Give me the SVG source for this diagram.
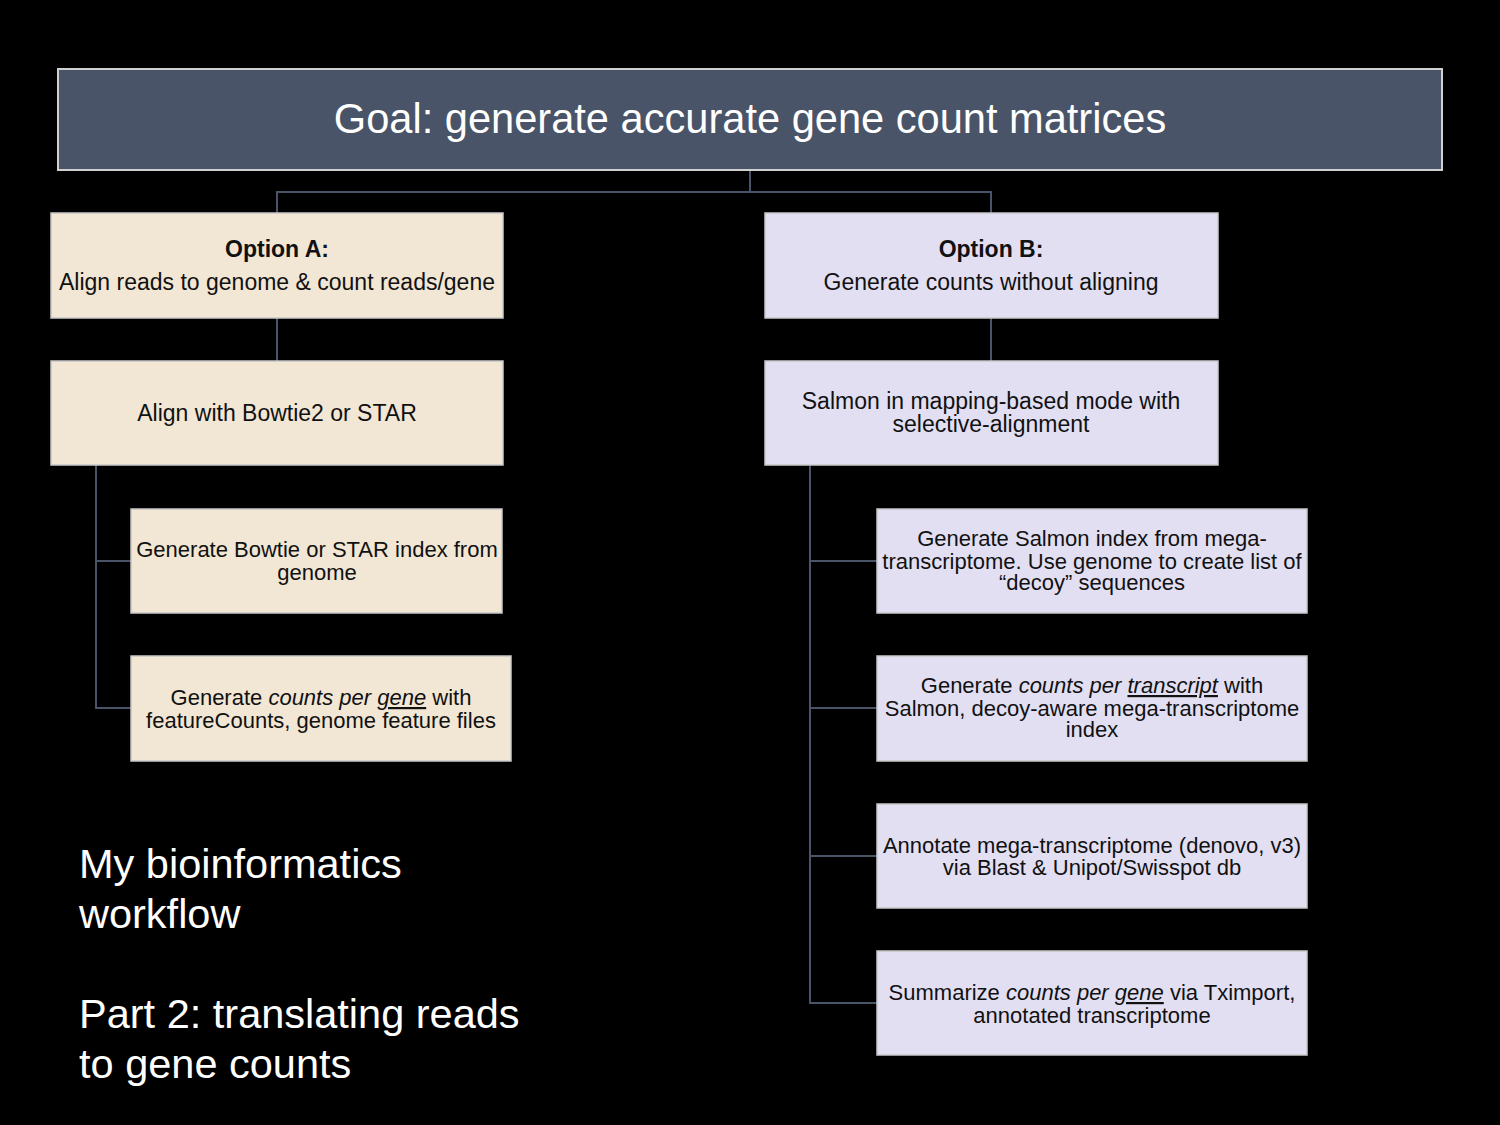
<svg xmlns="http://www.w3.org/2000/svg" width="1500" height="1125" viewBox="0 0 1500 1125">
<style>
.bg{fill:#000}
.a{fill:#f2e6d4;stroke:#c8c8c8;stroke-width:1.5}
.b{fill:#e3dff3;stroke:#c8c8c8;stroke-width:1.5}
.goal{fill:#4a5468;stroke:#d0d0d0;stroke-width:2}
.t{font-family:"Liberation Sans",Arial,sans-serif;font-size:22px;fill:#111;text-anchor:middle}
.l{font-size:23px}
.bold{font-weight:bold}
.gt{font-family:"Liberation Sans",Arial,sans-serif;font-size:41.6px;fill:#fff;text-anchor:middle}
.side{font-family:"Liberation Sans",Arial,sans-serif;font-size:41.5px;fill:#fff}
.c{fill:none;stroke:#4a5468;stroke-width:2}
.u{text-decoration:underline}
</style>
<rect class="bg" x="0" y="0" width="1500" height="1125"/>
<g id="connectors">
<polyline class="c" points="750,170 750,192 277,192 277,213"/>
<polyline class="c" points="750,192 991,192 991,213"/>
<line class="c" x1="277" y1="318" x2="277" y2="361"/>
<line class="c" x1="991" y1="318" x2="991" y2="361"/>
<polyline class="c" points="96,465 96,708 131,708"/>
<line class="c" x1="96" y1="561" x2="131" y2="561"/>
<polyline class="c" points="810,465 810,1003 877,1003"/>
<line class="c" x1="810" y1="561" x2="877" y2="561"/>
<line class="c" x1="810" y1="708" x2="877" y2="708"/>
<line class="c" x1="810" y1="856" x2="877" y2="856"/>
</g>
<g id="goal">
<rect class="goal" x="58" y="69" width="1384" height="101"/>
<text class="gt" x="750" y="133">Goal: generate accurate gene count matrices</text>
</g>
<g id="optionA">
<rect class="a" x="51" y="213" width="452" height="105"/>
<text class="t l bold" x="277" y="257">Option A:</text>
<text class="t l" x="277" y="290">Align reads to genome &amp; count reads/gene</text>
</g>
<g id="optionB">
<rect class="b" x="765" y="213" width="453" height="105"/>
<text class="t l bold" x="991" y="257">Option B:</text>
<text class="t l" x="991" y="290">Generate counts without aligning</text>
</g>
<g id="align">
<rect class="a" x="51" y="361" width="452" height="104"/>
<text class="t l" x="277" y="421">Align with Bowtie2 or STAR</text>
</g>
<g id="salmon">
<rect class="b" x="765" y="361" width="453" height="104"/>
<text class="t l" x="991" y="409">Salmon in mapping-based mode with</text>
<text class="t l" x="991" y="432">selective-alignment</text>
</g>
<g id="bowtieIndex">
<rect class="a" x="131" y="509" width="371" height="104"/>
<text class="t" x="317" y="557">Generate Bowtie or STAR index from</text>
<text class="t" x="317" y="580">genome</text>
</g>
<g id="featureCounts">
<rect class="a" x="131" y="656" width="380" height="105"/>
<text class="t" x="321" y="705">Generate <tspan font-style="italic">counts per </tspan><tspan font-style="italic" class="u">gene</tspan> with</text>
<text class="t" x="321" y="728">featureCounts, genome feature files</text>
</g>
<g id="salmonIndex">
<rect class="b" x="877" y="509" width="430" height="104"/>
<text class="t" x="1092" y="546">Generate Salmon index from mega-</text>
<text class="t" x="1092" y="569">transcriptome. Use genome to create list of</text>
<text class="t" x="1092" y="590">“decoy” sequences</text>
</g>
<g id="salmonCounts">
<rect class="b" x="877" y="656" width="430" height="105"/>
<text class="t" x="1092" y="693">Generate <tspan font-style="italic">counts per </tspan><tspan font-style="italic" class="u">transcript</tspan> with</text>
<text class="t" x="1092" y="716">Salmon, decoy-aware mega-transcriptome</text>
<text class="t" x="1092" y="737">index</text>
</g>
<g id="annotate">
<rect class="b" x="877" y="804" width="430" height="104"/>
<text class="t" x="1092" y="853">Annotate mega-transcriptome (denovo, v3)</text>
<text class="t" x="1092" y="875">via Blast &amp; Unipot/Swisspot db</text>
</g>
<g id="summarize">
<rect class="b" x="877" y="951" width="430" height="104"/>
<text class="t" x="1092" y="1000">Summarize <tspan font-style="italic">counts per </tspan><tspan font-style="italic" class="u">gene</tspan> via Tximport,</text>
<text class="t" x="1092" y="1023">annotated transcriptome</text>
</g>
<g id="sidetext">
<text class="side" x="79" y="878">My bioinformatics</text>
<text class="side" x="79" y="928">workflow</text>
<text class="side" x="79" y="1028">Part 2: translating reads</text>
<text class="side" x="79" y="1078">to gene counts</text>
</g>
</svg>
